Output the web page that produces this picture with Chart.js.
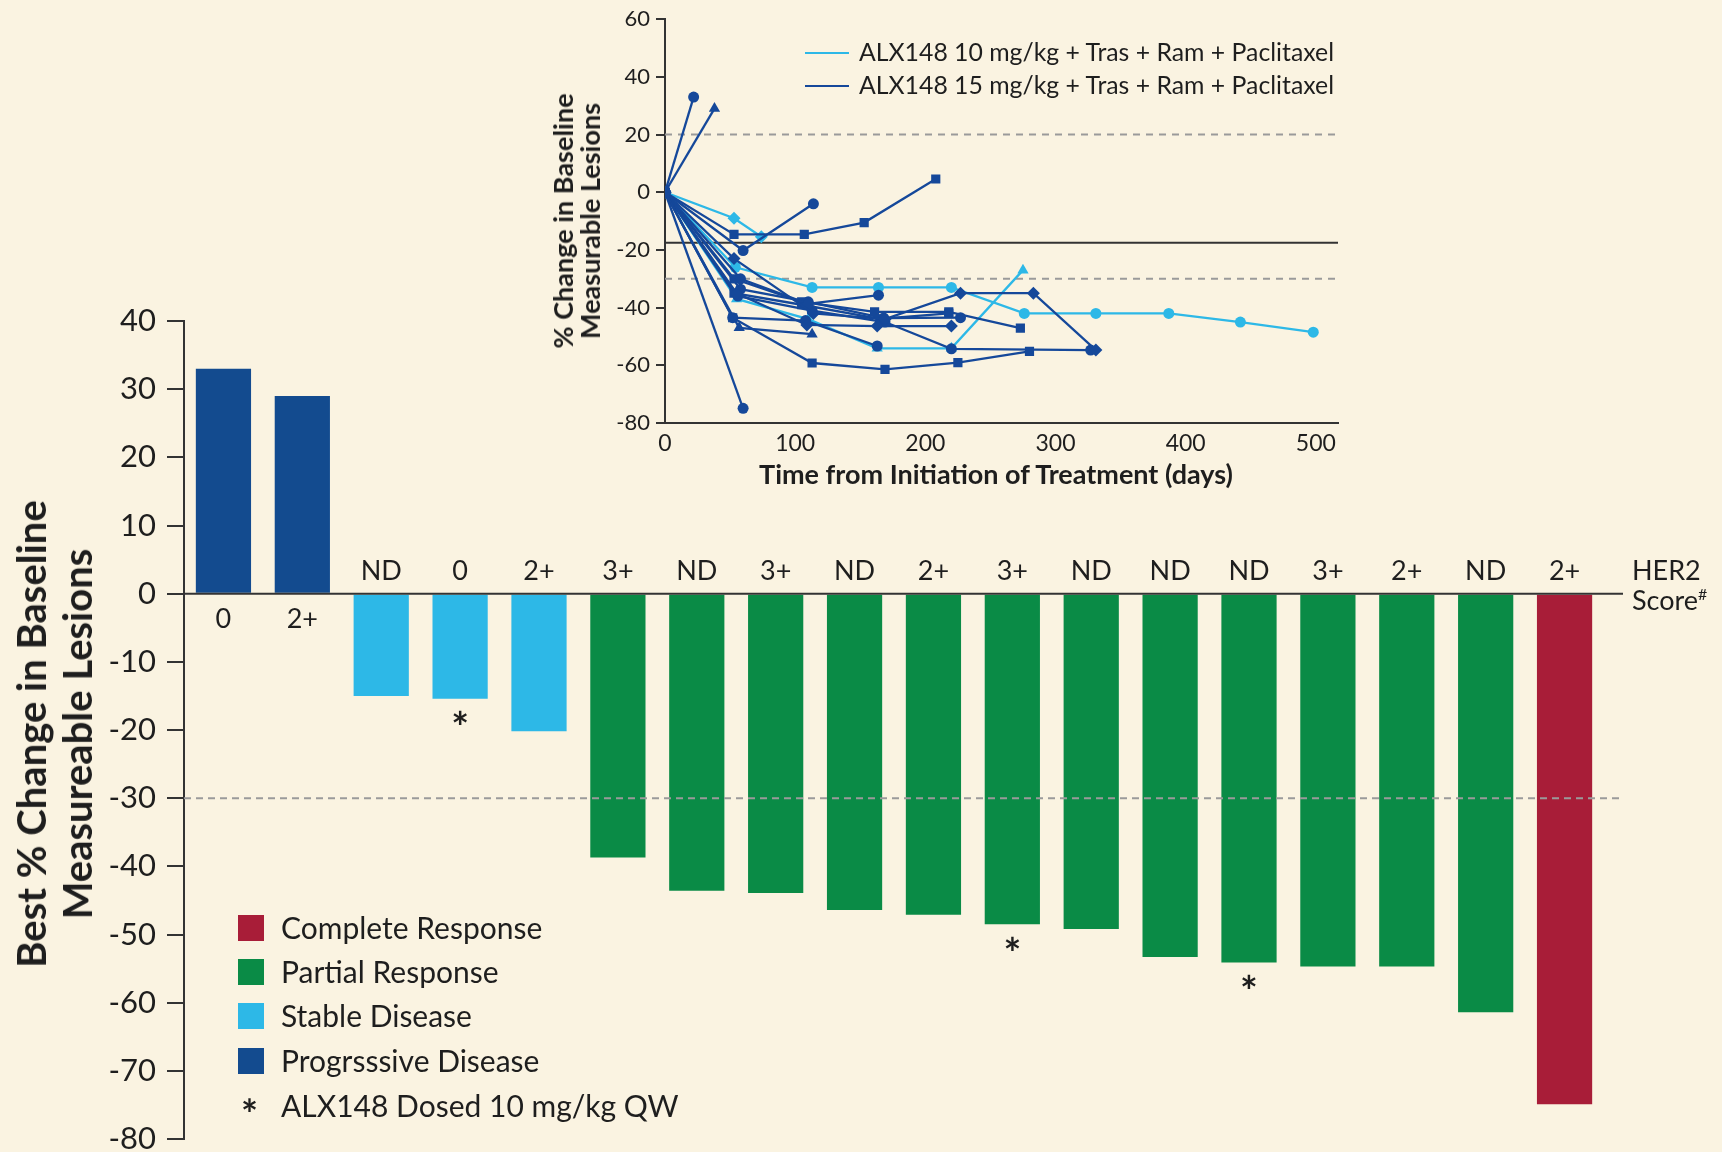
<!DOCTYPE html>
<html>
<head>
<meta charset="utf-8">
<title>ALX148 waterfall and spider plot</title>
<script src="https://cdn.jsdelivr.net/npm/chart.js@4.4.1/dist/chart.umd.min.js"></script>
<style>
  html, body { margin: 0; padding: 0; background: #FAF3E1; }
  #page { position: relative; width: 1722px; height: 1152px; overflow: hidden; background: #FAF3E1; }
  canvas { position: absolute; left: 0; top: 0; }
  .t { position: absolute; font-family: Lato, "Noto Sans", sans-serif; color: #1e1e1e; white-space: nowrap; }
  .rot { transform: translate(-50%, -50%) rotate(-90deg); text-align: center; }
  .sw { position: absolute; width: 26px; height: 26px; }
  .ln { position: absolute; height: 0; border-top: 2.5px solid; width: 44px; }
  .lg { font-size: 30px; line-height: 36px; }
</style>
</head>
<body>
<div id="page">
  <canvas id="waterfall" width="1722" height="1152"></canvas>
  <canvas id="spider" width="1722" height="1152"></canvas>

  <!-- waterfall axis title -->
  <div class="t rot" style="left:54px; top:734px; font-size:40px; font-weight:700; line-height:46px;">Best % Change in Baseline<br>Measureable Lesions</div>

  <!-- HER2 row caption -->
  <div class="t" style="left:1632px; top:555px; font-size:27px; line-height:30px;">HER2<br>Score<sup style="font-size:16px; vertical-align:10px; line-height:0;">#</sup></div>

  <!-- waterfall legend -->
  <div class="sw" style="left:238px; top:915px; background:#A81D38;"></div>
  <div class="t lg" style="left:281px; top:909px;">Complete Response</div>
  <div class="sw" style="left:238px; top:959px; background:#0A8B46;"></div>
  <div class="t lg" style="left:281px; top:953px;">Partial Response</div>
  <div class="sw" style="left:238px; top:1003px; background:#2DB8E7;"></div>
  <div class="t lg" style="left:281px; top:997px;">Stable Disease</div>
  <div class="sw" style="left:238px; top:1048px; background:#134B8F;"></div>
  <div class="t lg" style="left:281px; top:1042px;">Progrsssive Disease</div>
  <div class="t" style="left:241px; top:1096px; font-size:40px; line-height:36px; font-weight:700;">*</div>
  <div class="t lg" style="left:281px; top:1087px;">ALX148 Dosed 10 mg/kg QW</div>

  <!-- spider plot titles and legend -->
  <div class="t rot" style="left:576px; top:221px; font-size:27px; font-weight:700; line-height:27px;">% Change in Baseline<br>Measurable Lesions</div>
  <div class="t" style="left:996px; top:473px; transform:translate(-50%,-50%); font-size:27px; font-weight:700;">Time from Initiation of Treatment (days)</div>
  <div class="ln" style="left:805px; top:52px; border-color:#2DB8E7;"></div>
  <div class="t" style="left:859px; top:38px; font-size:24.8px; line-height:28px;">ALX148 10 mg/kg + Tras + Ram + Paclitaxel</div>
  <div class="ln" style="left:805px; top:85px; border-color:#15489A;"></div>
  <div class="t" style="left:859px; top:71px; font-size:24.8px; line-height:28px;">ALX148 15 mg/kg + Tras + Ram + Paclitaxel</div>
</div>

<script>
// ---------- Waterfall: best % change per patient ----------
const her2Scores = ['0', '2+', 'ND', '0', '2+', '3+', 'ND', '3+', 'ND', '2+', '3+', 'ND', 'ND', 'ND', '3+', '2+', 'ND', '2+'];
const bestChange = [33, 29, -15, -15.4, -20.2, -38.7, -43.6, -43.9, -46.4, -47.1, -48.5, -49.2, -53.3, -54.1, -54.7, -54.7, -61.4, -74.9];
const bestResponse = ['PD', 'PD', 'SD', 'SD', 'SD', 'PR', 'PR', 'PR', 'PR', 'PR', 'PR', 'PR', 'PR', 'PR', 'PR', 'PR', 'PR', 'CR'];
const dosed10mgQW = [false, false, false, true, false, false, false, false, false, false, true, false, false, true, false, false, false, false];
const waterfallTicks = [40, 30, 20, 10, 0, -10, -20, -30, -40, -50, -60, -70, -80];
const responseThreshold = -30;

const responseColors = { CR: '#A81D38', PR: '#0A8B46', SD: '#2DB8E7', PD: '#134B8F' };
const INK = '#1e1e1e';
const FONT = 'Lato, "Noto Sans", sans-serif';

// ---------- Spider plot: % change over time (day, % change) ----------
// 10 mg/kg QW cohort
const low1 = [[0, 0], [53, -9], [74, -15.4]];
const low2 = [[0, 0], [54, -26], [113, -33], [164, -33], [220, -33], [276, -42], [331, -42], [387, -42], [442, -45], [498, -48.5]];
const low3 = [[0, 0], [55, -37], [110, -44], [163, -54.1], [220, -54.1], [275, -27]];
// 15 mg/kg cohort
const high1 = [[0, 0], [22, 33]];
const high2 = [[0, 0], [38, 29]];
const high3 = [[0, 0], [53, -14.6], [107, -14.6], [153, -10.5], [208, 4.6]];
const high4 = [[0, 0], [60, -20.2], [114, -4]];
const high5 = [[0, 0], [60, -74.9]];
const high6 = [[0, 0], [52, -43.5], [113, -59.2], [169, -61.4], [225, -59.1], [280, -55.2]];
const high7 = [[0, 0], [57, -47], [113, -49.2]];
const high8 = [[0, 0], [53, -23], [114, -42], [169, -44], [227, -35], [283, -35], [331, -54.7]];
const high9 = [[0, 0], [58, -30], [110, -38.7], [164, -35.7]];
const high10 = [[0, 0], [55, -35], [109, -46], [163, -46.4], [220, -46.4]];
const high11 = [[0, 0], [53, -30], [105, -38], [161, -41.5], [218, -41.5], [273, -47.1]];
const high12 = [[0, 0], [56, -36], [113, -41], [169, -45], [220, -54.3], [327, -54.7]];
const high13 = [[0, 0], [58, -33.6], [110, -38], [168, -43.6], [227, -43.5]];
const high14 = [[0, 0], [53, -35], [105, -39], [165, -43.9], [218, -42]];
const high15 = [[0, 0], [52, -43.5], [108, -44.5], [163, -53.3]];
const spiderXTicks = [0, 100, 200, 300, 400, 500];
const spiderYTicks = [60, 40, 20, 0, -20, -40, -60, -80];
const spiderDashedRefs = [20, -30];
const spiderSolidRef = -17.5;

const LOW_COLOR = '#2DB8E7';
const HIGH_COLOR = '#15489A';

// ---------- Waterfall chart ----------
const waterfallOverlay = {
  id: 'waterfallOverlay',
  afterDatasetsDraw(chart) {
    const { ctx, chartArea, scales: { x, y } } = chart;
    const lineEnd = chartArea.right + 19;
    ctx.save();
    // response threshold
    ctx.strokeStyle = '#9a9a9a';
    ctx.lineWidth = 2;
    ctx.setLineDash([7, 5]);
    ctx.beginPath();
    ctx.moveTo(chartArea.left, y.getPixelForValue(responseThreshold));
    ctx.lineTo(lineEnd, y.getPixelForValue(responseThreshold));
    ctx.stroke();
    ctx.setLineDash([]);
    // zero line
    ctx.strokeStyle = '#333';
    ctx.lineWidth = 2;
    ctx.beginPath();
    ctx.moveTo(chartArea.left, y.getPixelForValue(0));
    ctx.lineTo(lineEnd, y.getPixelForValue(0));
    ctx.stroke();
    // HER2 scores and dose markers
    ctx.fillStyle = INK;
    ctx.textAlign = 'center';
    ctx.textBaseline = 'middle';
    const y0 = y.getPixelForValue(0);
    her2Scores.forEach((score, i) => {
      const cx = x.getPixelForValue(i);
      const v = bestChange[i];
      ctx.font = '27px ' + FONT;
      ctx.fillText(score, cx, v >= 0 ? y0 + 26 : y0 - 22);
      if (dosed10mgQW[i]) {
        ctx.font = 'bold 42px ' + FONT;
        ctx.fillText('*', cx, y.getPixelForValue(v) + 31);
      }
    });
    ctx.restore();
  }
};

new Chart(document.getElementById('waterfall'), {
  type: 'bar',
  data: {
    labels: her2Scores,
    datasets: [{
      data: bestChange,
      backgroundColor: bestResponse.map(r => responseColors[r]),
      barPercentage: 0.7,
      categoryPercentage: 1
    }]
  },
  options: {
    responsive: false,
    animation: false,
    events: [],
    layout: { padding: { left: 0, right: 1722 - 1604, top: 321, bottom: 13 } },
    plugins: { legend: { display: false }, tooltip: { enabled: false } },
    scales: {
      x: { display: false },
      y: {
        min: -80,
        max: 40,
        afterBuildTicks(scale) { scale.ticks = waterfallTicks.map(v => ({ value: v })); },
        afterFit(scale) {
          scale.width = 184;
          scale.paddingTop = 0;
          scale.paddingBottom = 0;
        },
        ticks: { color: INK, font: { family: FONT, size: 31 }, padding: 11 },
        grid: { drawOnChartArea: false, drawTicks: true, tickLength: 17, color: '#333', lineWidth: 2 },
        border: { display: true, color: '#333', width: 2 }
      }
    }
  },
  plugins: [waterfallOverlay]
});

// ---------- Spider chart ----------
const spiderRefs = {
  id: 'spiderRefs',
  beforeDatasetsDraw(chart) {
    const { ctx, chartArea, scales: { y } } = chart;
    ctx.save();
    ctx.strokeStyle = '#9a9a9a';
    ctx.lineWidth = 2;
    ctx.setLineDash([7, 6]);
    spiderDashedRefs.forEach(v => {
      ctx.beginPath();
      ctx.moveTo(chartArea.left, y.getPixelForValue(v));
      ctx.lineTo(chartArea.right, y.getPixelForValue(v));
      ctx.stroke();
    });
    ctx.setLineDash([]);
    ctx.strokeStyle = '#333';
    ctx.beginPath();
    ctx.moveTo(chartArea.left, y.getPixelForValue(spiderSolidRef));
    ctx.lineTo(chartArea.right, y.getPixelForValue(spiderSolidRef));
    ctx.stroke();
    ctx.restore();
  }
};

function patient(points, color, shape) {
  return {
    data: points.map(([d, v]) => ({ x: d, y: v })),
    showLine: true,
    borderColor: color,
    backgroundColor: color,
    borderWidth: 2.3,
    pointStyle: shape,
    pointRadius: shape === 'circle' ? 5.5 : 6.5,
    pointBorderWidth: 0
  };
}

const spiderSets = [
  patient(high1, HIGH_COLOR, 'circle'),
  patient(high2, HIGH_COLOR, 'triangle'),
  patient(high3, HIGH_COLOR, 'rect'),
  patient(high4, HIGH_COLOR, 'circle'),
  patient(high5, HIGH_COLOR, 'circle'),
  patient(high6, HIGH_COLOR, 'rect'),
  patient(high7, HIGH_COLOR, 'triangle'),
  patient(high8, HIGH_COLOR, 'rectRot'),
  patient(high9, HIGH_COLOR, 'circle'),
  patient(high10, HIGH_COLOR, 'rectRot'),
  patient(high11, HIGH_COLOR, 'rect'),
  patient(high12, HIGH_COLOR, 'circle'),
  patient(high13, HIGH_COLOR, 'circle'),
  patient(high14, HIGH_COLOR, 'rect'),
  patient(high15, HIGH_COLOR, 'circle'),
  patient(low1, LOW_COLOR, 'rectRot'),
  patient(low2, LOW_COLOR, 'circle'),
  patient(low3, LOW_COLOR, 'triangle')
];

new Chart(document.getElementById('spider'), {
  type: 'scatter',
  data: { datasets: spiderSets },
  options: {
    responsive: false,
    animation: false,
    events: [],
    layout: { padding: { left: 0, right: 1722 - 1338, top: 16, bottom: 0 } },
    plugins: { legend: { display: false }, tooltip: { enabled: false } },
    scales: {
      x: {
        type: 'linear',
        min: 0,
        max: 517,
        afterBuildTicks(scale) { scale.ticks = spiderXTicks.map(v => ({ value: v })); },
        afterFit(scale) { scale.height = 1152 - 423; },
        ticks: { color: INK, font: { family: FONT, size: 23 }, padding: 7, maxRotation: 0 },
        grid: { drawOnChartArea: false, drawTicks: false },
        border: { display: true, color: '#333', width: 2 }
      },
      y: {
        min: -80,
        max: 60,
        afterBuildTicks(scale) { scale.ticks = spiderYTicks.map(v => ({ value: v })); },
        afterFit(scale) { scale.width = 665; },
        ticks: { color: INK, font: { family: FONT, size: 22 }, padding: 6 },
        grid: { drawOnChartArea: false, drawTicks: true, tickLength: 9, color: '#333', lineWidth: 2 },
        border: { display: true, color: '#333', width: 2 }
      }
    }
  },
  plugins: [spiderRefs]
});
</script>
</body>
</html>
